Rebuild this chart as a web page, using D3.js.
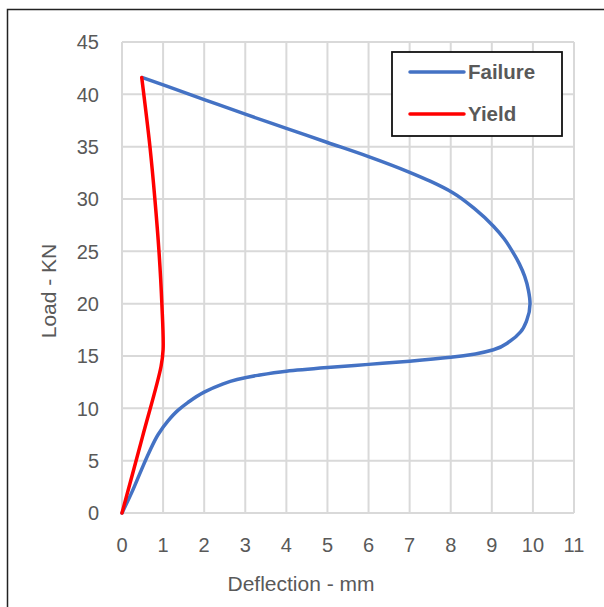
<!DOCTYPE html>
<html><head><meta charset="utf-8">
<script src="https://cdn.jsdelivr.net/npm/d3@7"></script>
<style>body{margin:0;background:#fff}svg{display:block}</style>
</head><body>
<svg id="c" width="604" height="607"></svg>
<script>
const xTicks = [0,1,2,3,4,5,6,7,8,9,10,11];
const yTicks = [0,5,10,15,20,25,30,35,40,45];
const failureX = [0,0.23,0.47,0.65,0.88,1.12,1.36,1.6,2.0,2.4,2.8,3.3,4,5,6,7,8,8.6,9.04,9.44,9.7,9.85,9.93,9.89,9.8,9.67,9.5,9.3,9.04,8.6,8.05,7.5,7.0,6.0,5.0,4.0,3.0,2.0,0.5];
const failureY = [0,1.9,4.1,5.7,7.5,8.8,9.8,10.55,11.55,12.25,12.75,13.15,13.55,13.9,14.2,14.5,14.87,15.2,15.6,16.4,17.3,18.4,20,21.3,22.6,23.8,25.0,26.2,27.4,29.0,30.6,31.7,32.55,34.05,35.4,36.75,38.1,39.5,41.6];
const yieldX = [0,0.5,0.95,1.0,0.97,0.9,0.8,0.68,0.48];
const yieldY = [0,7.3,14,15.6,20,25,30,35,41.6];
const seriesNames = ["Failure","Yield"];
const seriesColors = ["#4472C4","#FF0000"];

const svg = d3.select("#c");
const L=122,R=574,T=42,B=513;
const x = d3.scaleLinear().domain([0,11]).range([L,R]);
const y = d3.scaleLinear().domain([0,45]).range([B,T]);

svg.append("rect").attr("x",7.5).attr("y",9.5).attr("width",620).attr("height",620)
  .attr("fill","none").attr("stroke","#222").attr("stroke-width",1.5);

svg.append("g").selectAll("line").data(xTicks).join("line")
  .attr("x1",d=>x(d)).attr("x2",d=>x(d)).attr("y1",T).attr("y2",B)
  .attr("stroke","#d9d9d9").attr("stroke-width",2);
svg.append("g").selectAll("line").data(yTicks).join("line")
  .attr("x1",L).attr("x2",R).attr("y1",d=>y(d)).attr("y2",d=>y(d))
  .attr("stroke","#d9d9d9").attr("stroke-width",2);

const FF = "Liberation Sans, Arial, sans-serif";
svg.append("g").selectAll("text").data(yTicks).join("text")
  .attr("x",99).attr("y",d=>y(d)).attr("dy","0.36em").attr("text-anchor","end")
  .attr("font-family",FF).attr("font-size",20).attr("fill","#595959")
  .text(d=>d);
svg.append("g").selectAll("text").data(xTicks).join("text")
  .attr("x",d=>x(d)).attr("y",545).attr("dy","0.36em").attr("text-anchor","middle")
  .attr("font-family",FF).attr("font-size",20).attr("fill","#595959")
  .text(d=>d);

svg.append("text").attr("x",301).attr("y",583).attr("dy","0.36em").attr("text-anchor","middle")
  .attr("font-family",FF).attr("font-size",21).attr("fill","#595959")
  .text("Deflection - mm");
svg.append("text").attr("transform","translate(48,291) rotate(-90)").attr("dy","0.36em").attr("text-anchor","middle")
  .attr("font-family",FF).attr("font-size",21).attr("fill","#595959")
  .text("Load - KN");

const lineF = d3.line().x(d=>x(d[0])).y(d=>y(d[1])).curve(d3.curveMonotoneY);
const lineY = d3.line().x(d=>x(d[0])).y(d=>y(d[1])).curve(d3.curveCatmullRom.alpha(0.5));
const fData = failureX.map((v,i)=>[v,failureY[i]]);
const yData = yieldX.map((v,i)=>[v,yieldY[i]]);
svg.append("path").attr("d",lineF(fData)).attr("fill","none").attr("stroke",seriesColors[0]).attr("stroke-width",3.5).attr("stroke-linecap","round").attr("stroke-linejoin","round");
svg.append("path").attr("d",lineY(yData)).attr("fill","none").attr("stroke",seriesColors[1]).attr("stroke-width",3.5).attr("stroke-linecap","round").attr("stroke-linejoin","round");

const lg = svg.append("g");
lg.append("rect").attr("x",392).attr("y",52).attr("width",170).attr("height",84).attr("fill","#fff").attr("stroke","#111").attr("stroke-width",1.8);
[72,114].forEach((ly,i)=>{
  lg.append("line").attr("x1",410).attr("x2",464).attr("y1",ly).attr("y2",ly).attr("stroke",seriesColors[i]).attr("stroke-width",3.5).attr("stroke-linecap","round");
  lg.append("text").attr("x",468).attr("y",ly).attr("dy","0.36em").attr("font-family",FF)
    .attr("font-weight","bold").attr("font-size",20.5).attr("fill","#595959").text(seriesNames[i]);
});
</script>
</body></html>
